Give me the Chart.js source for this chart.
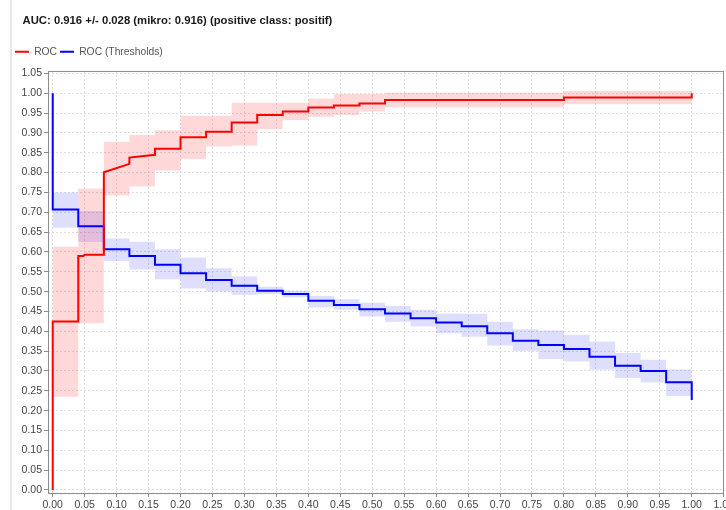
<!DOCTYPE html>
<html>
<head>
<meta charset="utf-8">
<title>ROC</title>
<script src="https://cdn.jsdelivr.net/npm/chart.js@4/dist/chart.umd.min.js"></script>
<style>
  html, body { margin: 0; padding: 0; background: #fff; }
  #wrap { width: 726px; height: 510px; position: relative; }
</style>
</head>
<body>
<div id="wrap"><canvas id="roc"></canvas></div>
<script>
// ── Data ──────────────────────────────────────────────────
const titleText   = 'AUC: 0.916 +/- 0.028 (mikro: 0.916) (positive class: positif)';
const seriesNames = ['ROC', 'ROC (Thresholds)'];
const tickValues  = [0.00, 0.05, 0.10, 0.15, 0.20, 0.25, 0.30, 0.35, 0.40, 0.45, 0.50,
                     0.55, 0.60, 0.65, 0.70, 0.75, 0.80, 0.85, 0.90, 0.95, 1.00, 1.05];

// ROC curve (vertices)
const rocX = [0, 0, 0.04, 0.04, 0.048, 0.05, 0.08, 0.08, 0.12, 0.12, 0.16, 0.16, 0.20, 0.20,
              0.24, 0.24, 0.28, 0.28, 0.32, 0.32, 0.36, 0.36, 0.40, 0.40, 0.44, 0.44,
              0.48, 0.48, 0.52, 0.52, 0.80, 0.80, 1.00, 1.00];
const rocY = [0, 0.425, 0.425, 0.590, 0.590, 0.593, 0.593, 0.801, 0.822, 0.838, 0.845, 0.860, 0.860, 0.889,
              0.889, 0.903, 0.903, 0.926, 0.926, 0.945, 0.945, 0.954, 0.954, 0.964, 0.964, 0.969,
              0.969, 0.974, 0.974, 0.983, 0.983, 0.989, 0.989, 1.000];

// ROC band (+/- std), step starts
const rocBandX  = [0, 0.04, 0.08, 0.12, 0.16, 0.20, 0.24, 0.28, 0.32, 0.36, 0.40, 0.44, 0.48, 0.52, 0.80, 1.00];
const rocUpper  = [0.613, 0.760, 0.878, 0.895, 0.907, 0.943, 0.943, 0.976, 0.976, 0.976, 0.987, 0.998, 0.998, 1.001, 1.006, 1.006];
const rocLower  = [0.235, 0.420, 0.742, 0.765, 0.805, 0.834, 0.866, 0.868, 0.909, 0.932, 0.941, 0.945, 0.954, 0.965, 0.972, 0.972];

// ROC (Thresholds) curve, step starts
const thrX = [0, 0, 0.04, 0.08, 0.12, 0.16, 0.20, 0.24, 0.28, 0.32, 0.36, 0.40, 0.44, 0.48,
              0.52, 0.56, 0.60, 0.64, 0.68, 0.72, 0.76, 0.80, 0.84, 0.88, 0.92, 0.96, 1.00, 1.00];
const thrY = [1.000, 0.707, 0.665, 0.607, 0.590, 0.568, 0.546, 0.529, 0.515, 0.502, 0.494, 0.477, 0.466, 0.4555,
              0.445, 0.433, 0.422, 0.413, 0.395, 0.376, 0.3655, 0.3555, 0.336, 0.313, 0.300, 0.2714, 0.2714, 0.227];

// Thresholds band
const thrBandX = [0, 0.04, 0.08, 0.12, 0.16, 0.20, 0.24, 0.28, 0.32, 0.36, 0.40, 0.44, 0.48,
                  0.52, 0.56, 0.60, 0.64, 0.68, 0.72, 0.76, 0.80, 0.84, 0.88, 0.92, 0.96, 1.00];
const thrUpper = [0.750, 0.703, 0.634, 0.626, 0.607, 0.586, 0.559, 0.539, 0.512, 0.503, 0.489, 0.481, 0.472,
                  0.464, 0.454, 0.445, 0.444, 0.424, 0.405, 0.402, 0.391, 0.374, 0.345, 0.328, 0.304, 0.304];
const thrLower = [0.661, 0.625, 0.577, 0.556, 0.531, 0.508, 0.500, 0.492, 0.494, 0.486, 0.460, 0.454, 0.437,
                  0.424, 0.412, 0.395, 0.386, 0.364, 0.351, 0.330, 0.324, 0.303, 0.282, 0.271, 0.237, 0.237];

// ── Helpers ───────────────────────────────────────────────
const pts = (xs, ys) => xs.map((x, i) => ({ x, y: ys[i] }));
const FONT = "'Liberation Sans', Arial, sans-serif";

const band = (xs, ys, color, fill) => ({
    label: '', data: pts(xs, ys), stepped: true, fill: fill,
    backgroundColor: color, borderColor: 'transparent', borderWidth: 0, pointRadius: 0,
});

// panel line, plot frame, header offsets
const frame = {
    id: 'frame',
    afterLayout(chart) {
        chart.titleBlock.left  += 22.5;
        chart.titleBlock.right += 22.5;
        chart.legend.left += 12;
        chart.legend.top  -= 4.1;
    },
    beforeDraw(chart) {
        const { ctx } = chart;
        ctx.save();
        ctx.fillStyle = '#e8e8e8';
        ctx.fillRect(10, 0, 2, chart.height);
        ctx.restore();
    },
    afterDatasetsDraw(chart) {
        const { ctx, chartArea: a } = chart;
        ctx.save();
        ctx.strokeStyle = '#8c8c8c';
        ctx.lineWidth = 1;
        ctx.strokeRect(a.left + 0.5, a.top + 0.5, a.right - a.left - 1, a.bottom - a.top);
        ctx.restore();
    },
};

const axisCommon = {
    type: 'linear',
    afterBuildTicks: s => { s.ticks = tickValues.map(v => ({ value: v })); },
    grid: { color: '#dedede', lineWidth: 1, tickColor: '#8c8c8c', tickLength: 4, tickBorderDash: [] },
    border: { display: false, dash: [2, 2] },
    ticks: { color: '#444', padding: 2, autoSkip: false, maxRotation: 0,
             font: { family: FONT, size: 10.5 }, callback: v => Number(v).toFixed(2) },
};

new Chart(document.getElementById('roc'), {
    type: 'line',
    data: {
        datasets: [
            { label: seriesNames[0], data: pts(rocX, rocY), borderColor: '#ff0000', backgroundColor: '#ff0000',
              borderWidth: 2, pointRadius: 0, fill: false },
            { label: seriesNames[1], data: pts(thrX, thrY), borderColor: '#0000ff', backgroundColor: '#0000ff',
              borderWidth: 2, pointRadius: 0, stepped: true, fill: false },
            band(rocBandX, rocUpper, 'rgba(255,0,0,0.15)', '+1'),
            band(rocBandX, rocLower, 'rgba(255,0,0,0.15)', false),
            band(thrBandX, thrUpper, 'rgba(0,0,255,0.13)', '+1'),
            band(thrBandX, thrLower, 'rgba(0,0,255,0.13)', false),
        ],
    },
    options: {
        responsive: true,
        maintainAspectRatio: false,
        animation: false,
        layout: { padding: { left: 0, right: 2, top: 0, bottom: 0 } },
        plugins: {
            title: {
                display: true, text: titleText, align: 'start', color: '#1a1a1a',
                font: { family: FONT, size: 11.3, weight: 'bold' },
                padding: { top: 14.2, bottom: 19.9 },
            },
            legend: {
                display: true, position: 'top', align: 'start',
                labels: {
                    filter: item => item.datasetIndex < 2,
                    usePointStyle: true, pointStyle: 'line', pointStyleWidth: 14,
                    padding: 3, color: '#555',
                    font: { family: FONT, size: 10.3 },
                },
            },
            tooltip: { enabled: false },
        },
        scales: {
            x: Object.assign({}, axisCommon, {
                min: -0.0074, max: 1.0505,
                afterFit: s => { s.height = 17; s.paddingLeft = 0; s.paddingRight = 0; },
            }),
            y: Object.assign({}, axisCommon, {
                min: -0.0076, max: 1.0562,
                afterFit: s => { s.width = 48; s.paddingTop = 0; s.paddingBottom = 0; },
            }),
        },
    },
    plugins: [frame],
});
</script>
</body>
</html>
